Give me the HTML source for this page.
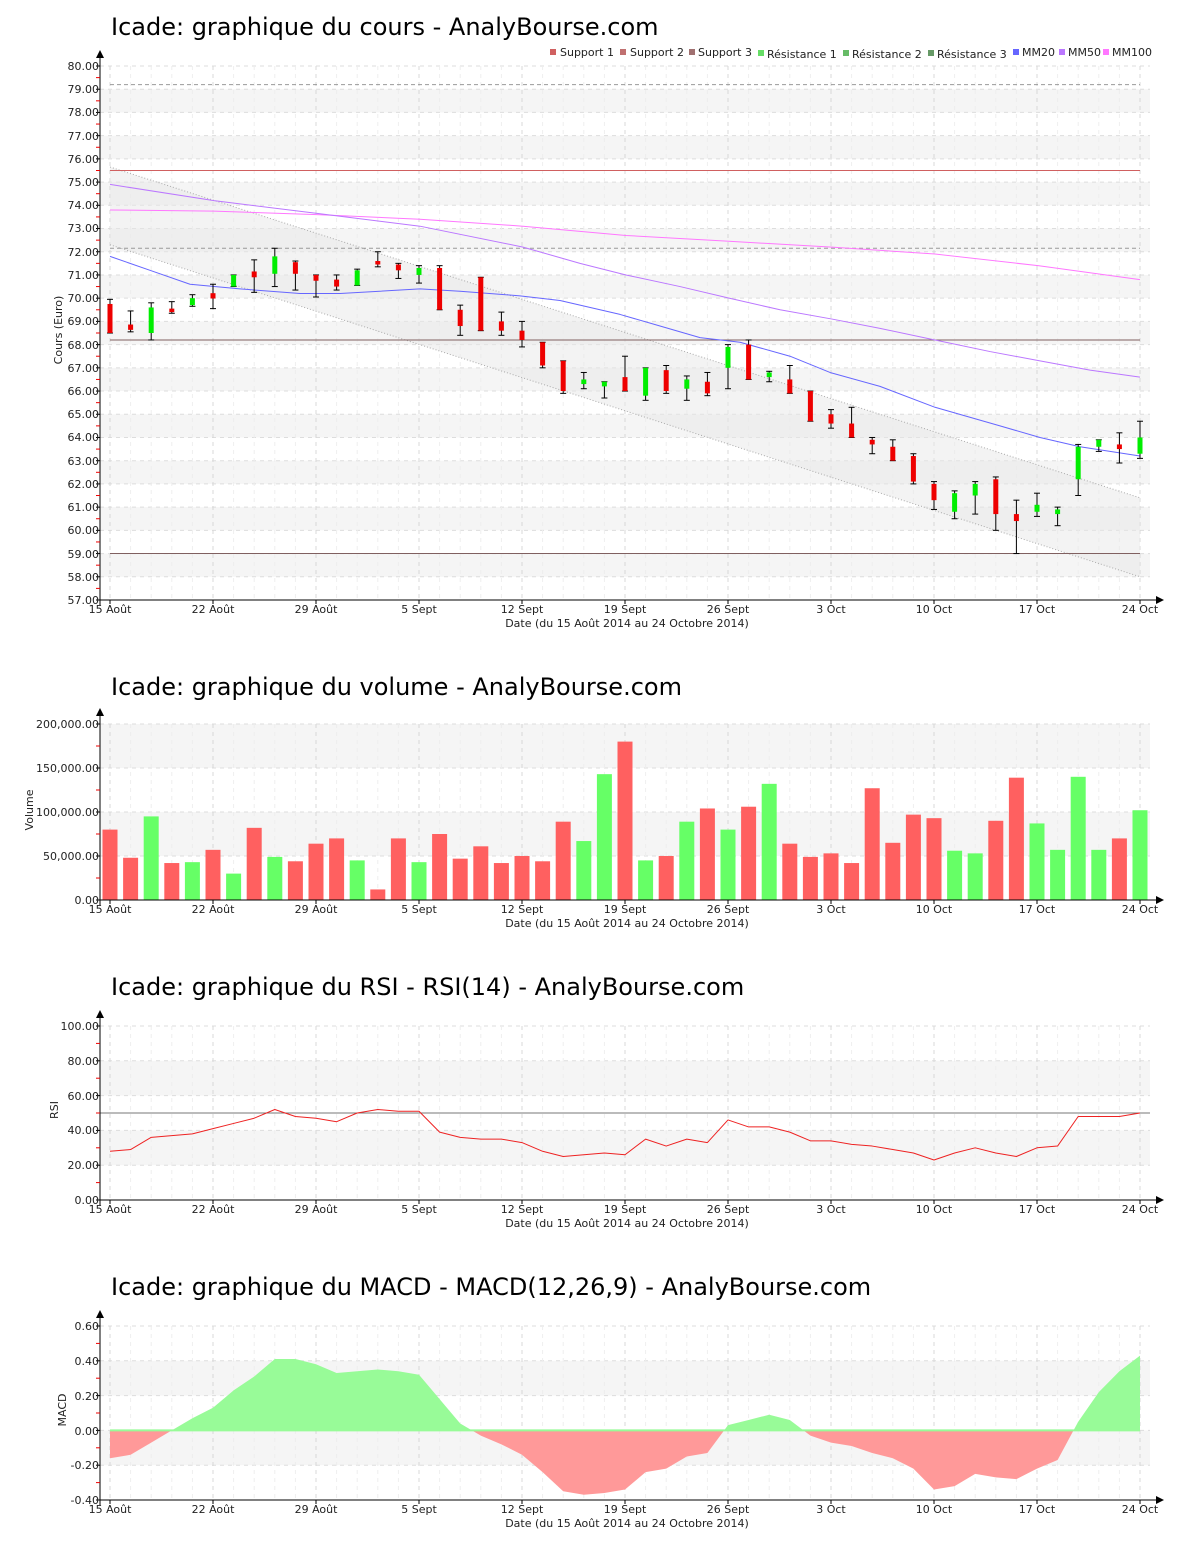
<!DOCTYPE html>
<html><head><meta charset="utf-8"><style>
body{margin:0;background:#fff;}
svg{display:block;font-family:"DejaVu Sans","Liberation Sans",sans-serif;}
.t{font-size:24px;fill:#000;}
.l{font-size:11px;fill:#222;}
.lg{font-size:11px;fill:#222;}
</style></head><body>
<svg id="s" width="1200" height="1550" xmlns="http://www.w3.org/2000/svg">
<g id="g"></g>
<text class="t" x="111" y="35">Icade: graphique du cours - AnalyBourse.com</text>
<text class="t" x="111" y="695">Icade: graphique du volume - AnalyBourse.com</text>
<text class="t" x="111" y="995">Icade: graphique du RSI - RSI(14) - AnalyBourse.com</text>
<text class="t" x="111" y="1295">Icade: graphique du MACD - MACD(12,26,9) - AnalyBourse.com</text>
<g class="lg">
<rect x="550" y="49" width="6" height="6" fill="#d06060"/><text x="560" y="56">Support 1</text>
<rect x="620" y="49" width="6" height="6" fill="#c07070"/><text x="630" y="56">Support 2</text>
<rect x="689" y="49" width="6" height="6" fill="#a07070"/><text x="698" y="56">Support 3</text>
<rect x="758" y="50" width="6" height="6" fill="#66dd66"/><text x="767" y="58">Résistance 1</text>
<rect x="843" y="50" width="6" height="6" fill="#66bb66"/><text x="852" y="58">Résistance 2</text>
<rect x="928" y="50" width="6" height="6" fill="#669966"/><text x="937" y="58">Résistance 3</text>
<rect x="1013" y="49" width="6" height="6" fill="#6666ff"/><text x="1022" y="56">MM20</text>
<rect x="1059" y="49" width="6" height="6" fill="#bb77ff"/><text x="1068" y="56">MM50</text>
<rect x="1103" y="49" width="6" height="6" fill="#ff77ff"/><text x="1112" y="56">MM100</text>
</g>
<g class="l" text-anchor="end">
<text x="99" y="70">80.00</text><text x="99" y="93">79.00</text><text x="99" y="116">78.00</text><text x="99" y="140">77.00</text><text x="99" y="163">76.00</text><text x="99" y="186">75.00</text><text x="99" y="209">74.00</text><text x="99" y="232">73.00</text><text x="99" y="256">72.00</text><text x="99" y="279">71.00</text><text x="99" y="302">70.00</text><text x="99" y="325">69.00</text><text x="99" y="349">68.00</text><text x="99" y="372">67.00</text><text x="99" y="395">66.00</text><text x="99" y="418">65.00</text><text x="99" y="441">64.00</text><text x="99" y="465">63.00</text><text x="99" y="488">62.00</text><text x="99" y="511">61.00</text><text x="99" y="534">60.00</text><text x="99" y="558">59.00</text><text x="99" y="581">58.00</text><text x="99" y="604">57.00</text>
<text x="99" y="904">0.00</text><text x="99" y="860">50,000.00</text><text x="99" y="816">100,000.00</text><text x="99" y="772">150,000.00</text><text x="99" y="728">200,000.00</text>
<text x="99" y="1204">0.00</text><text x="99" y="1169">20.00</text><text x="99" y="1134">40.00</text><text x="99" y="1100">60.00</text><text x="99" y="1065">80.00</text><text x="99" y="1030">100.00</text>
<text x="99" y="1330">0.60</text><text x="99" y="1365">0.40</text><text x="99" y="1400">0.20</text><text x="99" y="1435">0.00</text><text x="99" y="1469">-0.20</text><text x="99" y="1504">-0.40</text>
</g>
<g class="l" text-anchor="middle">
<text transform="translate(62,330) rotate(-90)">Cours (Euro)</text>
<text transform="translate(33,810) rotate(-90)">Volume</text>
<text transform="translate(58,1110) rotate(-90)">RSI</text>
<text transform="translate(66,1410) rotate(-90)">MACD</text>
</g>
<g class="l" text-anchor="middle">
<text x="110" y="613">15 Août</text><text x="213" y="613">22 Août</text><text x="316" y="613">29 Août</text><text x="419" y="613">5 Sept</text><text x="522" y="613">12 Sept</text><text x="625" y="613">19 Sept</text><text x="728" y="613">26 Sept</text><text x="831" y="613">3 Oct</text><text x="934" y="613">10 Oct</text><text x="1037" y="613">17 Oct</text><text x="1140" y="613">24 Oct</text>
<text x="627" y="627">Date (du 15 Août 2014 au 24 Octobre 2014)</text>
<text x="110" y="913">15 Août</text><text x="213" y="913">22 Août</text><text x="316" y="913">29 Août</text><text x="419" y="913">5 Sept</text><text x="522" y="913">12 Sept</text><text x="625" y="913">19 Sept</text><text x="728" y="913">26 Sept</text><text x="831" y="913">3 Oct</text><text x="934" y="913">10 Oct</text><text x="1037" y="913">17 Oct</text><text x="1140" y="913">24 Oct</text>
<text x="627" y="927">Date (du 15 Août 2014 au 24 Octobre 2014)</text>
<text x="110" y="1213">15 Août</text><text x="213" y="1213">22 Août</text><text x="316" y="1213">29 Août</text><text x="419" y="1213">5 Sept</text><text x="522" y="1213">12 Sept</text><text x="625" y="1213">19 Sept</text><text x="728" y="1213">26 Sept</text><text x="831" y="1213">3 Oct</text><text x="934" y="1213">10 Oct</text><text x="1037" y="1213">17 Oct</text><text x="1140" y="1213">24 Oct</text>
<text x="627" y="1227">Date (du 15 Août 2014 au 24 Octobre 2014)</text>
<text x="110" y="1513">15 Août</text><text x="213" y="1513">22 Août</text><text x="316" y="1513">29 Août</text><text x="419" y="1513">5 Sept</text><text x="522" y="1513">12 Sept</text><text x="625" y="1513">19 Sept</text><text x="728" y="1513">26 Sept</text><text x="831" y="1513">3 Oct</text><text x="934" y="1513">10 Oct</text><text x="1037" y="1513">17 Oct</text><text x="1140" y="1513">24 Oct</text>
<text x="627" y="1527">Date (du 15 Août 2014 au 24 Octobre 2014)</text>
</g>
</svg>
<script>
var g=document.getElementById('g'),h='';
function X(i){return 110+i*20.6;}
function panel(top,bot,n,ax){
 var step=(bot-top)/n;
 for(var k=0;k<n;k++){ if(k%2==1){var yb=bot-k*step;h+='<rect x="100" y="'+(yb-step)+'" width="1050" height="'+step+'" fill="#f5f5f5"/>';}}
 for(var k=0;k<=n;k++){var y=bot-k*step;h+='<line x1="100" x2="1150" y1="'+y+'" y2="'+y+'" stroke="#ddd" stroke-dasharray="4,4"/>';}
 for(var i=0;i<=50;i++){var d=i%5==0;h+='<line x1="'+X(i)+'" x2="'+X(i)+'" y1="'+top+'" y2="'+bot+'" stroke="'+(d?'#d8d8d8':'#eee')+'" stroke-dasharray="4,4"/>';}
 g.insertAdjacentHTML('beforeend',h);h='';
 ax.push([top,bot,step]);
}
var axes=[];
function axis(top,bot,step){
 var s='<line x1="100" x2="100" y1="'+(top-12)+'" y2="'+(bot+5)+'" stroke="#000"/><line x1="96" x2="1158" y1="'+bot+'" y2="'+bot+'" stroke="#000"/>';
 s+='<polygon points="96,'+(top-8)+' 104,'+(top-8)+' 100,'+(top-16)+'" fill="#000"/><polygon points="1156,'+(bot-4)+' 1156,'+(bot+4)+' 1164,'+bot+'" fill="#000"/>';
 for(var y=bot;y>=top-0.5;y-=step){s+='<line x1="96" x2="100" y1="'+y+'" y2="'+y+'" stroke="#000"/>';if(y-step/2>top)s+='<line x1="96" x2="100" y1="'+(y-step/2)+'" y2="'+(y-step/2)+'" stroke="#e00"/>';}
 for(var i=0;i<=50;i+=5){s+='<line x1="'+X(i)+'" x2="'+X(i)+'" y1="'+bot+'" y2="'+(bot+4)+'" stroke="#000"/>';}
 return s;
}
panel(66,600,23,axes);
function PY(p){return 66+(80-p)*23.217;}
function poly(pts,f,c,extra){var s='';for(var k=0;k<pts.length;k+=2)s+=(pts[k])+','+f(pts[k+1])+' ';return '<polyline points="'+s+'" fill="none" stroke="'+c+'" stroke-linejoin="round" '+(extra||'')+'/>';}
h+='<polygon points="110,'+PY(75.65)+' 1140,'+PY(61.4)+' 1140,'+PY(58.0)+' 110,'+PY(72.3)+'" fill="#e8e8e8" opacity="0.5"/>';
h+='<line x1="110" x2="1140" y1="'+PY(75.65)+'" y2="'+PY(61.4)+'" stroke="#aaa" stroke-dasharray="1,2"/>';
h+='<line x1="110" x2="1140" y1="'+PY(72.3)+'" y2="'+PY(58.0)+'" stroke="#aaa" stroke-dasharray="1,2"/>';
h+='<line x1="110" x2="1140" y1="'+PY(75.5)+'" y2="'+PY(75.5)+'" stroke="#d06060"/>';
h+='<line x1="110" x2="1140" y1="'+PY(68.2)+'" y2="'+PY(68.2)+'" stroke="#806060"/>';
h+='<line x1="110" x2="1140" y1="'+PY(59)+'" y2="'+PY(59)+'" stroke="#806060"/>';
h+='<line x1="110" x2="1140" y1="'+PY(79.2)+'" y2="'+PY(79.2)+'" stroke="#999" stroke-dasharray="4,3"/>';
h+='<line x1="110" x2="1140" y1="'+PY(72.15)+'" y2="'+PY(72.15)+'" stroke="#999" stroke-dasharray="4,3"/>';
h+=poly([110,73.8,214,73.75,317,73.6,420,73.4,523,73.1,626,72.7,729,72.45,832,72.2,935,71.9,1038,71.4,1140,70.8],PY,'#ff77ff');
h+=poly([110,74.9,214,74.2,317,73.65,420,73.1,523,72.2,580,71.5,626,71.0,680,70.5,729,70.0,780,69.5,832,69.1,880,68.7,935,68.2,990,67.7,1040,67.3,1090,66.9,1140,66.6],PY,'#bb77ff');
h+=poly([110,71.8,150,71.2,190,70.6,240,70.4,300,70.2,340,70.2,420,70.4,460,70.3,520,70.1,560,69.9,620,69.3,660,68.8,700,68.3,740,68.1,790,67.5,830,66.8,880,66.2,935,65.3,1000,64.5,1040,64.0,1080,63.6,1140,63.2],PY,'#6666ff');
var C=[[69.75,68.5,69.95,68.5],[68.8,68.7,69.45,68.55],[68.5,69.6,69.8,68.2],[69.55,69.4,69.85,69.35],[69.7,70.0,70.15,69.65],[70.15,70.05,70.6,69.55],[70.5,71.0,71,70.5],[71.15,70.9,71.65,70.25],[71.05,71.8,72.15,70.5],[71.55,71.05,71.6,70.35],[71.0,70.75,71.0,70.05],[70.8,70.5,71,70.35],[70.55,71.2,71.25,70.55],[71.6,71.45,72,71.35],[71.45,71.2,71.5,70.85],[71.0,71.3,71.4,70.65],[71.3,69.5,71.4,69.5],[69.5,68.8,69.7,68.4],[70.9,68.6,70.9,68.6],[69.0,68.6,69.4,68.4],[68.6,68.2,69,67.9],[68.1,67.1,68.1,67.0],[67.3,66.0,67.3,65.9],[66.3,66.5,66.8,66.1],[66.2,66.4,66.4,65.7],[66.6,66.0,67.5,66.0],[65.8,67.0,67.0,65.6],[66.9,66.0,67.1,65.9],[66.1,66.5,66.65,65.6],[66.4,65.9,66.8,65.8],[67.0,67.9,68.0,66.1],[68.0,66.5,68.2,66.5],[66.6,66.8,66.85,66.4],[66.5,65.9,67.1,65.9],[66.0,64.7,66.0,64.7],[65.0,64.6,65.2,64.4],[64.6,64.0,65.3,64.0],[63.9,63.7,64.0,63.3],[63.6,63.0,63.9,63.0],[63.2,62.1,63.3,62.0],[62.0,61.3,62.1,60.9],[60.8,61.6,61.7,60.5],[61.5,62.0,62.1,60.7],[62.2,60.7,62.3,60.0],[60.7,60.4,61.3,59.0],[60.8,61.1,61.6,60.6],[60.7,60.9,61.0,60.2],[62.2,63.6,63.7,61.5],[63.6,63.9,63.9,63.4],[63.7,63.5,64.2,62.9],[63.3,64.0,64.7,63.1]];
for(var i=0;i<C.length;i++){var c=C[i],x=X(i),up=c[1]>c[0];
 h+='<line x1="'+x+'" x2="'+x+'" y1="'+PY(c[2])+'" y2="'+PY(c[3])+'" stroke="#000"/>';
 h+='<line x1="'+(x-3)+'" x2="'+(x+3)+'" y1="'+PY(c[2])+'" y2="'+PY(c[2])+'" stroke="#000"/><line x1="'+(x-3)+'" x2="'+(x+3)+'" y1="'+PY(c[3])+'" y2="'+PY(c[3])+'" stroke="#000"/>';
 var t=PY(Math.max(c[0],c[1])),b=PY(Math.min(c[0],c[1]));if(b-t<3){t-=1.5;b+=1.5;}
 h+='<rect x="'+(x-2.5)+'" y="'+t+'" width="5" height="'+(b-t)+'" fill="'+(up?'#00ee00':'#ee0000')+'"/>';}
h+=axis(66,600,23.217);
g.insertAdjacentHTML('beforeend',h);h='';
panel(724,900,4,axes);
var V=[80,48,95,42,43,57,30,82,49,44,64,70,45,12,70,43,75,47,61,42,50,44,89,67,143,180,45,50,89,104,80,106,132,64,49,53,42,127,65,97,93,56,53,90,139,87,57,140,57,70,102];
var VG=[0,0,1,0,1,0,1,0,1,0,0,0,1,0,0,1,0,0,0,0,0,0,0,1,1,0,1,0,1,0,1,0,1,0,0,0,0,0,0,0,0,1,1,0,0,1,1,1,1,0,1];
for(var i=0;i<V.length;i++){var hh=V[i]*0.88;h+='<rect x="'+(X(i)-7.5)+'" y="'+(900-hh)+'" width="15" height="'+hh+'" fill="'+(VG[i]?'#66ff66':'#ff6060')+'"/>';}
h+=axis(724,900,44);
g.insertAdjacentHTML('beforeend',h);h='';
panel(1026,1200,5,axes);
function RY(v){return 1200-v*1.74;}
h+='<line x1="100" x2="1150" y1="'+RY(50)+'" y2="'+RY(50)+'" stroke="#777"/>';
var R=[28,29,36,37,38,41,44,47,52,48,47,45,50,52,51,51,39,36,35,35,33,28,25,26,27,26,35,31,35,33,46,42,42,39,34,34,32,31,29,27,23,27,30,27,25,30,31,48,48,48,50];
var p=[];for(var i=0;i<R.length;i++){p.push(X(i),R[i]);}
h+=poly(p,RY,'#ee2222');
h+=axis(1026,1200,34.8);
g.insertAdjacentHTML('beforeend',h);h='';
panel(1326,1500,5,axes);
function MY(v){return 1430.4-v*174;}
var M=[-0.16,-0.14,-0.07,0.0,0.07,0.13,0.23,0.31,0.41,0.41,0.38,0.33,0.34,0.35,0.34,0.32,0.18,0.04,-0.03,-0.08,-0.14,-0.24,-0.35,-0.37,-0.36,-0.34,-0.24,-0.22,-0.15,-0.13,0.03,0.06,0.09,0.06,-0.03,-0.07,-0.09,-0.13,-0.16,-0.22,-0.34,-0.32,-0.25,-0.27,-0.28,-0.22,-0.17,0.05,0.22,0.34,0.43];
var s='110,'+MY(0)+' ';for(var i=0;i<M.length;i++)s+=X(i)+','+MY(M[i])+' ';s+='1140,'+MY(0);
h+='<defs><clipPath id="ca"><rect x="100" y="1300" width="1060" height="'+(MY(0)-1300)+'"/></clipPath><clipPath id="cb"><rect x="100" y="'+MY(0)+'" width="1060" height="100"/></clipPath></defs>';
h+='<polygon points="'+s+'" fill="#98fb98" clip-path="url(#ca)"/><polygon points="'+s+'" fill="#ff9999" clip-path="url(#cb)"/>';
h+='<line x1="110" x2="1140" y1="'+MY(0)+'" y2="'+MY(0)+'" stroke="#98fb98" stroke-width="2"/>';
h+=axis(1326,1500,34.8);
g.insertAdjacentHTML('beforeend',h);
</script>
</body></html>
